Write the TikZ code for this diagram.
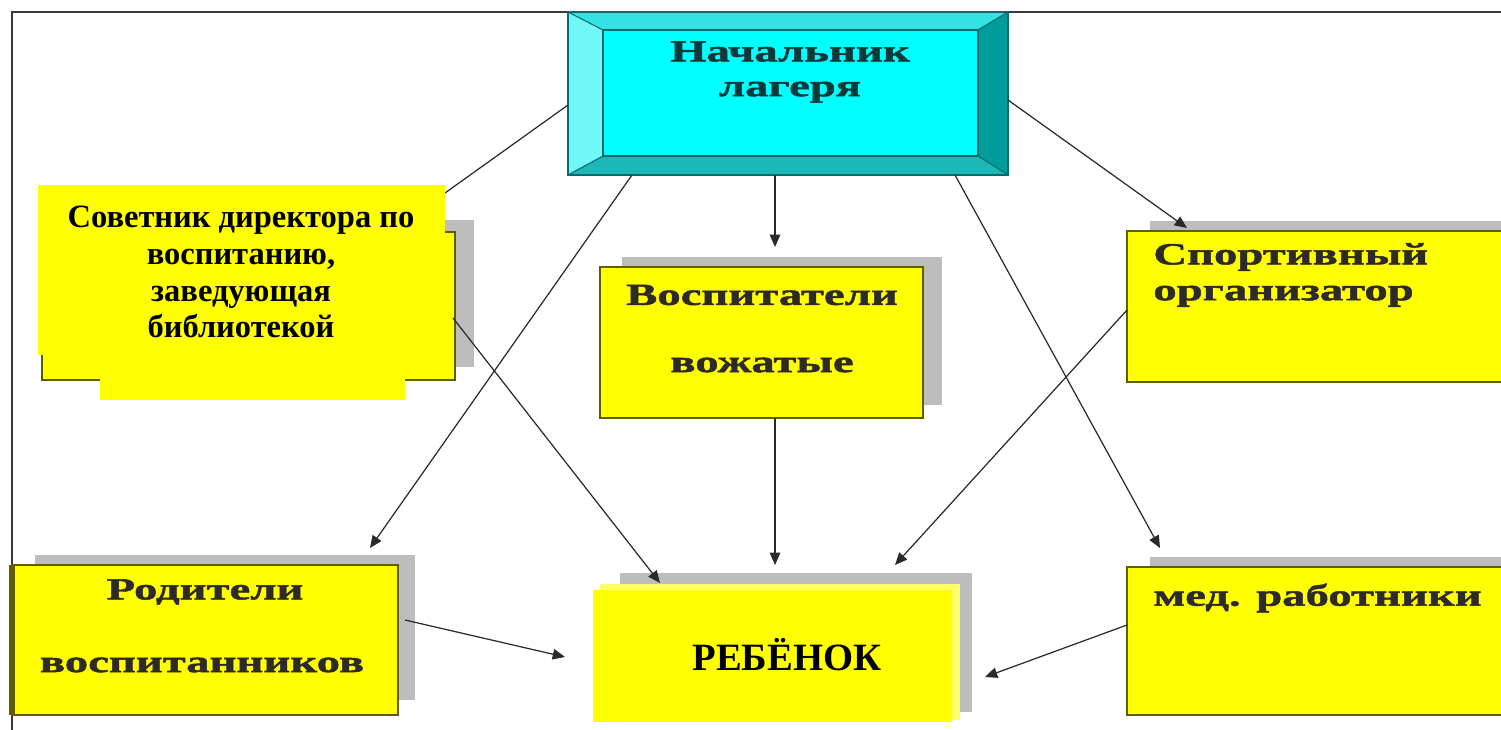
\documentclass[tikz,border=0pt]{standalone}
\usepackage{fontspec}
\setmainfont{Liberation Serif}
\newfontfamily\widefont{Liberation Serif}[FakeStretch=1.52, FakeBold=1.6]
\usetikzlibrary{arrows.meta,calc,fit}
\definecolor{boxyellow}{HTML}{FFFF00}
\definecolor{boxolive}{HTML}{5E5E00}
\definecolor{shadowgrey}{HTML}{BDBDBD}
\definecolor{cyanmain}{HTML}{00FFFF}
\definecolor{cyantop}{HTML}{33E3E3}
\definecolor{cyanleft}{HTML}{70F8F8}
\definecolor{cyanright}{HTML}{009C9C}
\definecolor{cyanbottom}{HTML}{1CB8B8}
\definecolor{tealline}{HTML}{0A6A6A}
\definecolor{tealtext}{HTML}{0B3A3A}
\definecolor{arrowgrey}{HTML}{2A2A2A}
\definecolor{framegrey}{HTML}{3A3A3A}
\tikzset{
  boxfit/.style={inner sep=0pt, outer sep=0pt},
  ybox/.style={boxfit, fill=boxyellow, draw=boxolive, line width=1.2pt},
  yfill/.style={boxfit, fill=boxyellow},
  shadowbox/.style={fill=shadowgrey},
  widetext/.style={font=\widefont\bfseries\fontsize{17.5}{20}\selectfont, text=black!90!olive, inner sep=0pt},
  plaintext/.style={font=\bfseries\fontsize{18.5}{21}\selectfont, text=black, inner sep=0pt, align=center},
  conn/.style={draw=arrowgrey, line width=0.7pt},
  arr/.style={conn, -{Triangle[length=7pt,width=6pt]}},
}
\begin{document}
\begin{tikzpicture}[x=0.02cm, y=-0.02cm]
\useasboundingbox (0,0) rectangle (1501,730);
\clip (0,0) rectangle (1501,730);
\fill[white] (0,0) rectangle (1501,730);
% frame
\draw[framegrey, line width=1pt] (12,730) -- (12,12) -- (1501,12);

% ---------- top box (bevelled) ----------
\node[boxfit, fit={(568,12) (1008,175)}] (top) {};
\fill[cyantop] (568,12) -- (1008,12) -- (978,30) -- (603,30) -- cycle;
\fill[cyanleft] (568,12) -- (603,30) -- (603,156) -- (568,175) -- cycle;
\fill[cyanright] (1008,12) -- (978,30) -- (978,156) -- (1008,175) -- cycle;
\fill[cyanbottom] (568,175) -- (603,156) -- (978,156) -- (1008,175) -- cycle;
\fill[cyanmain] (603,30) rectangle (978,156);
\draw[tealline, line width=0.9pt] (568,12) rectangle (1008,175);
\draw[tealline, line width=1.2pt] (603,30) rectangle (978,156);
\draw[tealline, line width=0.6pt] (568,12) -- (603,30) (1008,12) -- (978,30)
  (568,175) -- (603,156) (1008,175) -- (978,156);
\node[widetext, text=tealtext, align=center, font=\widefont\bfseries\fontsize{17.5}{19.8}\selectfont] (toptext) at (790,72) {Начальник\\лагеря};

% ---------- connectors drawn under boxes ----------
\draw[conn] ($(top.north west)+(0,93)$) coordinate (c1s) -- (445,193) coordinate (c1e);

% ---------- Советник box ----------
\fill[shadowgrey] (62,220) rectangle (474,367);
\node[ybox, fit={(42,232) (455,380)}] (sovbox) {};
\node[yfill, fit={(38,185) (445,355)}] (sovA) {};
\node[yfill, fit={(100,354) (405,400)}] (sovB) {};
\node[plaintext] (sovtext) at (241,272) {Советник директора по\\воспитанию,\\заведующая\\библиотекой};

% ---------- Воспитатели ----------
\fill[shadowgrey] (622,257) rectangle (942,405);
\node[ybox, fit={(600,267) (923,418)}] (vos) {};
\node[widetext] (vos1) at (762,295) {Воспитатели};
\node[widetext] (vos2) at (762,365) {вожатые};

% ---------- Спортивный ----------
\fill[shadowgrey] (1150,221) rectangle (1520,370);
\node[ybox, fit={(1127,231) (1520,382)}] (spo) {};
\node[widetext, anchor=west, align=left, font=\widefont\bfseries\fontsize{17.5}{20.4}\selectfont] (spotext) at (1153,275) {Спортивный\\организатор};

% ---------- Родители ----------
\fill[shadowgrey] (35,555) rectangle (415,700);
\node[ybox, fit={(12,565) (398,715)}] (rod) {};
\draw[boxolive, line width=3pt] (12,565) -- (12,715);
\node[widetext] (rod1) at (205,592) {Родители};
\node[widetext] (rod2) at (202,665) {воспитанников};

% ---------- мед. работники ----------
\fill[shadowgrey] (1150,557) rectangle (1520,705);
\node[ybox, fit={(1127,567) (1520,715)}] (med) {};
\node[widetext, anchor=west] (medtext) at (1153,598) {мед. работники};

% ---------- РЕБЁНОК ----------
\fill[shadowgrey] (620,573) rectangle (972,712);
\fill[boxyellow!60!white] (600,584) rectangle (960,720);
\node[yfill, fit={(593,590) (952,722)}] (reb) {};
\node[plaintext, font=\bfseries\fontsize{22}{24}\selectfont] (rebtext) at (787,655) {РЕБЁНОК};

% ---------- arrows ----------
\draw[arr] ($(top.south west)+(64,0)$) -- ($(rod.north west)+(358,-17)$);
\draw[arr] ($(top.south west)+(207,0)$) -- ($(vos.north west)+(175,-20)$);
\draw[arr] ($(top.south west)+(387,0)$) -- ($(med.north west)+(33,-19)$);
\draw[arr] ($(top.north east)+(0,88)$) -- ($(spo.north west)+(60,-3)$);
\draw[arr] ($(sovbox.north east)+(-2,86)$) -- ($(reb.north west)+(67,-7)$);
\draw[arr] ($(vos.south west)+(175,0)$) -- ($(reb.north west)+(182,-25)$);
\draw[arr] ($(spo.north west)+(0,79)$) -- ($(reb.north west)+(302,-25)$);
\draw[arr] ($(rod.north east)+(7,55)$) -- ($(reb.north west)+(-28,67)$);
\draw[arr] ($(med.north west)+(0,58)$) -- ($(reb.north east)+(33,87)$);
\end{tikzpicture}
\end{document}
